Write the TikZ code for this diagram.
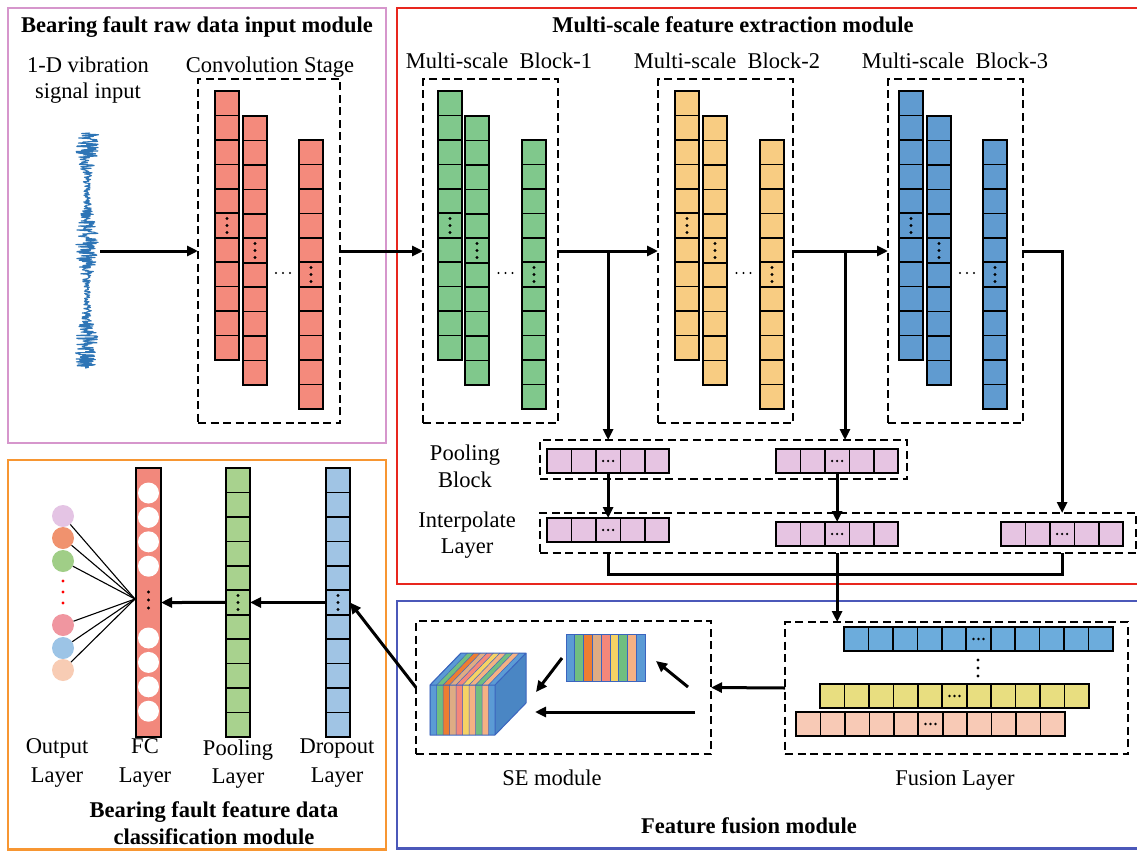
\documentclass[tikz,border=0pt]{standalone}
\usepackage{fontspec}
\setmainfont{Liberation Serif}
\usetikzlibrary{arrows.meta,calc}

% frame colours
\definecolor{pinkf}{RGB}{214,150,204}
\definecolor{redf}{RGB}{232,38,30}
\definecolor{orangef}{RGB}{247,150,50}
\definecolor{bluef}{RGB}{75,88,185}
% cell colours
\definecolor{convc}{RGB}{244,138,124}
\definecolor{grnc}{RGB}{128,200,140}
\definecolor{ylwc}{RGB}{248,204,130}
\definecolor{bluc}{RGB}{96,155,208}
\definecolor{pinkc}{RGB}{230,196,226}
\definecolor{dropc}{RGB}{160,196,228}
\definecolor{poolc}{RGB}{168,210,142}
\definecolor{fcc}{RGB}{242,136,124}
\definecolor{fblue}{RGB}{108,172,220}
\definecolor{fyel}{RGB}{232,222,128}
\definecolor{fsal}{RGB}{248,202,182}
\definecolor{sigc}{RGB}{46,117,182}
% output neurons
\definecolor{oA}{RGB}{228,196,228}
\definecolor{oB}{RGB}{240,146,110}
\definecolor{oC}{RGB}{160,206,135}
\definecolor{oD}{RGB}{240,150,160}
\definecolor{oE}{RGB}{156,196,230}
\definecolor{oF}{RGB}{248,204,180}
% channel stripes
\definecolor{sBlue}{RGB}{91,155,213}
\definecolor{sGreen}{RGB}{112,190,128}
\definecolor{sOrange}{RGB}{237,125,49}
\definecolor{sTan}{RGB}{222,172,132}
\definecolor{sSalmon}{RGB}{244,135,122}
\definecolor{sYellow}{RGB}{246,210,100}
\definecolor{sLight}{RGB}{244,177,131}
\definecolor{cubeside}{RGB}{74,134,196}
\definecolor{cubeedge}{RGB}{59,100,190}

\tikzset{
  frame/.style={line width=2.2pt},
  dbox/.style={draw, dash pattern=on 8pt off 4.5pt, line width=2.2pt, inner sep=0pt, outer sep=0pt},
  cellbox/.style={draw, line width=1.6pt, inner sep=0pt, outer sep=0pt},
  cellline/.style={line width=1.6pt},
  arr/.style={line width=3pt, -{Triangle[length=11pt,width=10pt]}},
  wire/.style={line width=3pt},
  lbl/.style={font=\fontsize{22.5}{27}\selectfont, inner sep=0pt, anchor=base},
  ttl/.style={font=\bfseries\fontsize{22.5}{27}\selectfont, inner sep=0pt, anchor=base},
  outc/.style={circle, minimum size=22pt, inner sep=0pt},
}

% vertical column of 11 cells: name, left x, top y, fill, dotted cell
\newcommand\vcol[5]{%
  \node[cellbox, fill=#4, minimum width=24pt, minimum height=268.95pt, anchor=north west] (#1) at (#2,#3) {};
  \foreach \k in {1,...,10} \draw[cellline] ($(#1.north west)+(0,\k*24.45)$) -- ++(24,0);
  \foreach \d in {-7,0,7} \fill ($(#1.north)+(0,{(#5-0.5)*24.45+\d})$) circle (1.7pt);
}
% horizontal strip: name, left x, top y, fill, cells, dotted cell
\newcommand\hstrip[6]{%
  \node[cellbox, fill=#4, minimum width={#5*24.45pt}, minimum height=24pt, anchor=north west] (#1) at (#2,#3) {};
  \pgfmathtruncatemacro\lastk{#5-1}
  \foreach \k in {1,...,\lastk} \draw[cellline] ($(#1.north west)+(\k*24.45,0)$) -- ++(0,24);
  \foreach \d in {-5,0,5} \fill ($(#1.west)+({(#6-0.5)*24.45+\d},0)$) circle (1.3pt);
}
% convolution / multi-scale stage: prefix, box left, box right, x1, x2, x3, fill
\newcommand\stage[7]{%
  \node[dbox, minimum width={(#3-#2)*1pt}, minimum height=344pt, anchor=north west] (#1box) at (#2,79) {};
  \vcol{#1c1}{#4}{91}{#7}{6}
  \vcol{#1c2}{#5}{116}{#7}{6}
  \vcol{#1c3}{#6}{140}{#7}{6}
  \foreach \d in {-7,0,7} \fill ({(#5+24+#6)/2+\d},273) circle (1.2pt);
}

\begin{document}
\begin{tikzpicture}[x=1pt,y=-1pt]
\useasboundingbox (0,0) rectangle (1137,851);
\fill[white] (0,0) rectangle (1137,851);

% module frames
\draw[frame, draw=pinkf] (8,8) rectangle (386,443);
\draw[frame, draw=redf] (397,8) rectangle (1140,584);
\draw[frame, draw=orangef] (8,460) rectangle (386,849.5);
\draw[frame, draw=bluef] (397,601) rectangle (1140,848.5);

% module titles
\node[ttl] (t1) at (197,33) {Bearing fault raw data input module};
\node[ttl] (t2) at (733,33) {Multi-scale feature extraction module};
\node[ttl] (t3a) at (214,817) {Bearing fault feature data};
\node[ttl] (t3b) at (214,844) {classification module};
\node[ttl] (t4) at (749,833) {Feature fusion module};

% raw vibration signal
\pgfmathsetseed{7}
\draw[sigc, line width=1.1pt, line join=round]
  plot[domain=133:368, samples=420, variable=\t]
  ({87+(3+9*(0.5+0.5*cos((\t-140)*3.4286)))*rand}, \t);
\coordinate (sigout) at (100,251);
\node[lbl] (s1) at (88,72) {1-D vibration};
\node[lbl] (s2) at (88,98) {signal input};

% convolution stage and multi-scale blocks
\node[lbl] (lc) at (270,72) {Convolution Stage};
\stage{conv}{198}{340}{215}{243}{299}{convc}
\node[lbl] (lb1) at (499,68) {Multi-scale\ \ Block-1};
\stage{bA}{423}{558}{438}{465}{522}{grnc}
\node[lbl] (lb2) at (727,68) {Multi-scale\ \ Block-2};
\stage{bB}{658}{793}{675}{703}{760}{ylwc}
\node[lbl] (lb3) at (955,68) {Multi-scale\ \ Block-3};
\stage{bC}{888}{1023}{899}{927}{983}{bluc}

\draw[arr] (sigout) -- (convbox.west);
\draw[arr] (convbox.east) -- (bAbox.west);
\draw[arr] (bAbox.east) -- (bBbox.west);
\draw[arr] (bBbox.east) -- (bCbox.west);

% pooling block and interpolate layer
\node[lbl] (lp1) at (465,460) {Pooling};
\node[lbl] (lp2) at (465,487) {Block};
\node[lbl] (li1) at (467,527) {Interpolate};
\node[lbl] (li2) at (467,553) {Layer};
\node[dbox, minimum width=367pt, minimum height=39pt, anchor=north west] (poolbox) at (540,440) {};
\node[dbox, minimum width=596pt, minimum height=40pt, anchor=north west] (interpbox) at (540,513) {};
\hstrip{pool1}{547}{449}{pinkc}{5}{3}
\hstrip{pool2}{776}{449}{pinkc}{5}{3}
\hstrip{interp1}{547}{518}{pinkc}{5}{3}
\hstrip{interp2}{776}{522}{pinkc}{5}{3}
\hstrip{interp3}{1001}{522}{pinkc}{5}{3}

\coordinate (br2) at (845,251);
\draw[arr] (pool1.north |- bAbox.east) -- (pool1.north |- poolbox.north);
\draw[arr] (br2) -- (br2 |- poolbox.north);
\draw[arr] (bCbox.east) -| (interp3.north |- interpbox.north);
\draw[arr] (pool1.south) -- (interp1.north);
\draw[arr] (pool2.south) -- (interp2.north);
\draw[wire] (interp1.south |- interpbox.south) -- ++(0,21) -| (interp3.south |- interpbox.south);

% fusion layer
\node[dbox, minimum width=343pt, minimum height=132pt, anchor=north west] (fusbox) at (785,622) {};
\hstrip{fuseA}{844}{627}{fblue}{11}{6}
\hstrip{fuseB}{820}{684}{fyel}{11}{6}
\hstrip{fuseC}{796}{712}{fsal}{11}{6}
\foreach \yy in {660,668,676} \fill (978,\yy) circle (1.6pt);
\node[lbl] (lf) at (955,785) {Fusion Layer};
\draw[arr] (interp2.south |- interpbox.south) -- (interp2.south |- fusbox.north);

% SE module
\node[dbox, minimum width=295pt, minimum height=133pt, anchor=north west] (sebox) at (416,621) {};
\node[lbl] (lse) at (552,785) {SE module};
\draw[arr] (fusbox.west) -- (sebox.east);

% channel weight vector
\foreach \c [count=\i from 0] in {sBlue,sGreen,sOrange,sTan,sSalmon,sYellow,sGreen,sLight,sBlue}
  \fill[\c] (566+\i*8.78,634) rectangle ++(8.78,47);
\foreach \i in {1,...,8} \draw[cubeedge, line width=0.6pt] (566+\i*8.78,634) -- ++(0,47);
\node[draw=cubeedge, line width=1pt, minimum width=79pt, minimum height=47pt, inner sep=0pt, anchor=north west] (sevec) at (566,634) {};

% feature cube
\foreach \c [count=\i from 0] in {sBlue,sGreen,sOrange,sTan,sSalmon,sYellow,sLight,sGreen,sLight,sBlue} {
  \fill[\c] (430+\i*6.5,685) rectangle ++(6.5,50);
  \fill[\c] (430+\i*6.5,685) -- ++(31,-32) -- ++(6.5,0) -- ++(-31,32) -- cycle;
  \draw[cubeedge, line width=0.5pt] (430+\i*6.5,735) -- ++(0,-50) -- ++(31,-32);
}
\fill[cubeside] (495,685) -- (526,653) -- (526,703) -- (495,735) -- cycle;
\draw[cubeedge, line width=1pt, line join=round] (430,685) rectangle (495,735)
  (430,685) -- (461,653) -- (526,653) -- (495,685)
  (526,653) -- (526,703) -- (495,735);
\coordinate (cube) at (478,694);

\coordinate (seA) at (688,687);
\coordinate (seB) at (656,661);
\coordinate (seC) at (562,658);
\coordinate (seD) at (536,692);
\coordinate (seE) at (695,712);
\coordinate (seF) at (535,712);
\draw[arr] (seA) -- (seB);
\draw[arr] (seC) -- (seD);
\draw[arr] (seE) -- (seF);

% classification module
\vcol{drop}{326}{468}{dropc}{6}
\vcol{poolcol}{226}{468}{poolc}{6}
\node[cellbox, fill=fcc, minimum width=25pt, minimum height=269pt, anchor=north west] (fc) at (136,468) {};
\foreach \yy in {493,517.4,541.8,566.2,638,662.4,686.8,711.2} \fill[white] (148.5,\yy) circle (10.5pt);
\foreach \yy in {592,600,608} \fill (148.5,\yy) circle (1.7pt);

\node[outc, fill=oA] (o1) at (63,516) {};
\node[outc, fill=oB] (o2) at (63,538) {};
\node[outc, fill=oC] (o3) at (63,561) {};
\node[outc, fill=oD] (o4) at (63,625) {};
\node[outc, fill=oE] (o5) at (63,648) {};
\node[outc, fill=oF] (o6) at (63,670) {};
\foreach \yy in {581,592,603} \fill[red] (63,\yy) circle (1.7pt);
\coordinate (fcin) at (135,599);
\foreach \o in {o1,o2,o3,o4,o5,o6} \draw[line width=1.1pt] (\o) -- (fcin);

\draw[arr] (drop.west) -- (poolcol.east);
\draw[arr] (poolcol.west) -- (fc.east);
\draw[arr] (sebox.west) -- (drop.east);

\node[lbl] (lo1) at (57,753) {Output};
\node[lbl] (lo2) at (57,782) {Layer};
\node[lbl] (lfc1) at (145,753) {FC};
\node[lbl] (lfc2) at (145,782) {Layer};
\node[lbl] (lpl1) at (238,755) {Pooling};
\node[lbl] (lpl2) at (238,783) {Layer};
\node[lbl] (ld1) at (337,753) {Dropout};
\node[lbl] (ld2) at (337,782) {Layer};
\end{tikzpicture}
\end{document}
